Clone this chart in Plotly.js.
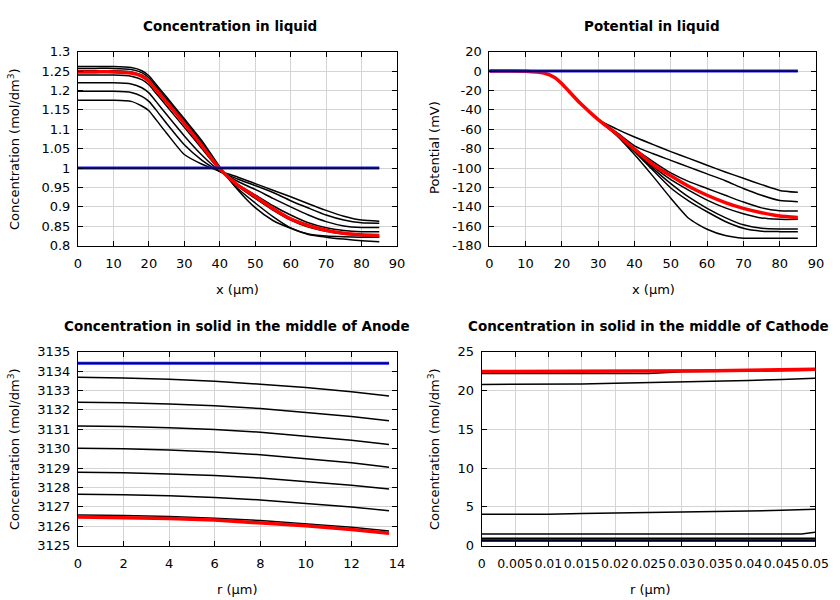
<!DOCTYPE html>
<html>
<head>
<meta charset="utf-8">
<script src="https://cdn.plot.ly/plotly-3.0.1.min.js"></script>
<style>html,body{margin:0;padding:0;background:#fff;}#chart{width:840px;height:600px;}</style>
</head>
<body>
<div id="chart"></div>
<script>
// ---------- Data: concentration in liquid ----------
var xLiq = [0, 5, 10, 15, 18, 20, 22, 25, 30, 35, 40, 45, 50, 55, 60, 65, 70, 75, 80, 85];
var cLiqInit = [1, 1, 1, 1, 1, 1, 1, 1, 1, 1, 1, 1, 1, 1, 1, 1, 1, 1, 1, 1];
var cLiqA = [1.175, 1.175, 1.175, 1.172, 1.160, 1.148, 1.125, 1.090, 1.035, 1.010, 0.992, 0.977, 0.960, 0.943, 0.926, 0.908, 0.891, 0.876, 0.866, 0.863];
var cLiqB = [1.198, 1.198, 1.198, 1.195, 1.185, 1.172, 1.150, 1.115, 1.060, 1.020, 0.991, 0.972, 0.955, 0.937, 0.916, 0.897, 0.879, 0.866, 0.859, 0.858];
var cLiqC = [1.220, 1.220, 1.220, 1.217, 1.207, 1.194, 1.172, 1.138, 1.083, 1.033, 0.992, 0.966, 0.945, 0.922, 0.900, 0.879, 0.862, 0.851, 0.847, 0.847];
var cLiqD = [1.240, 1.240, 1.240, 1.237, 1.228, 1.215, 1.193, 1.160, 1.105, 1.050, 0.995, 0.958, 0.931, 0.903, 0.879, 0.859, 0.846, 0.839, 0.836, 0.836];
var cLiqE = [1.251, 1.251, 1.251, 1.248, 1.240, 1.227, 1.205, 1.172, 1.117, 1.059, 0.998, 0.954, 0.922, 0.892, 0.866, 0.848, 0.837, 0.830, 0.826, 0.824];
var cLiqF = [1.257, 1.257, 1.257, 1.254, 1.246, 1.233, 1.211, 1.178, 1.122, 1.064, 1.000, 0.948, 0.910, 0.875, 0.846, 0.830, 0.825, 0.823, 0.822, 0.822];
var cLiqG = [1.262, 1.262, 1.262, 1.259, 1.251, 1.238, 1.216, 1.183, 1.127, 1.070, 1.003, 0.945, 0.898, 0.865, 0.845, 0.829, 0.822, 0.817, 0.813, 0.810];
var cLiqFinal = [1.248, 1.248, 1.248, 1.245, 1.237, 1.224, 1.202, 1.170, 1.115, 1.057, 0.998, 0.957, 0.927, 0.896, 0.869, 0.852, 0.840, 0.832, 0.828, 0.826];

// ---------- Data: potential in liquid ----------
var pLiqInit = [0, 0, 0, 0, 0, 0, 0, 0, 0, 0, 0, 0, 0, 0, 0, 0, 0, 0, 0, 0];
var pLiqA = [0, 0, -0.2, -2, -6.5, -13, -21, -33, -50, -59.5, -68, -75.5, -83, -90, -97, -104, -110.5, -117, -123, -125];
var pLiqB = [0, 0, -0.2, -2, -6.5, -13, -21, -33, -50, -63, -77, -85, -92, -99, -106, -113, -121, -128, -133.5, -134.6];
var pLiqC = [0, 0, -0.2, -2, -6.5, -13, -21, -33, -50, -64, -80, -93, -105, -114, -121, -128, -135, -141, -144, -144.2];
var pLiqD = [0, 0, -0.2, -2, -6.5, -13, -21, -33, -50, -65, -81, -98, -112, -123, -133, -141, -147, -151.5, -152.8, -152.8];
var pLiqE = [0, 0, -0.2, -2, -6.5, -13, -21, -33, -50, -65.5, -82, -100, -116, -130, -141.5, -151, -158.5, -162, -162.8, -162.8];
var pLiqF = [0, 0, -0.2, -2, -6.5, -13, -21, -33, -50, -65.5, -83, -102, -120.5, -134, -145, -155, -162, -165, -165.5, -165.5];
var pLiqG = [0, 0, -0.2, -2, -6.5, -13, -21, -33, -50, -66, -86, -108, -131, -152, -163, -169.5, -172.2, -172.4, -172.4, -172.4];
var pLiqFinal = [0, 0, -0.2, -2, -6.5, -13, -21, -33, -50, -64.5, -80.5, -96, -108, -119, -128, -135.5, -141.5, -146, -149.4, -150.8];

// ---------- Data: anode solid ----------
var rAn = [0, 2, 4, 6, 8, 10, 12, 13.65];
var cAnInit = [3134.4, 3134.4, 3134.4, 3134.4, 3134.4, 3134.4, 3134.4, 3134.4];
var cAn1 = [3133.68, 3133.65, 3133.58, 3133.48, 3133.32, 3133.15, 3132.94, 3132.72];
var cAn2 = [3132.39, 3132.37, 3132.30, 3132.21, 3132.07, 3131.88, 3131.66, 3131.44];
var cAn3 = [3131.17, 3131.15, 3131.08, 3130.99, 3130.85, 3130.66, 3130.44, 3130.22];
var cAn4 = [3130.02, 3130.00, 3129.93, 3129.83, 3129.69, 3129.49, 3129.27, 3129.04];
var cAn5 = [3128.78, 3128.76, 3128.70, 3128.62, 3128.49, 3128.32, 3128.12, 3127.92];
var cAn6 = [3127.65, 3127.63, 3127.57, 3127.49, 3127.36, 3127.19, 3127.00, 3126.80];
var cAn7 = [3126.58, 3126.56, 3126.50, 3126.42, 3126.30, 3126.14, 3125.95, 3125.76];
var cAnFinal = [3126.48, 3126.46, 3126.40, 3126.32, 3126.19, 3126.03, 3125.83, 3125.64];

// ---------- Data: cathode solid ----------
var rCat = [0, 0.005, 0.01, 0.015, 0.02, 0.025, 0.03, 0.035, 0.04, 0.045, 0.048, 0.05];
var cCatInit = [0.68, 0.68, 0.68, 0.68, 0.68, 0.68, 0.68, 0.68, 0.68, 0.68, 0.68, 0.68];
var cCat1 = [0.76, 0.76, 0.76, 0.76, 0.76, 0.76, 0.76, 0.76, 0.76, 0.76, 0.76, 0.76];
var cCat2 = [0.85, 0.85, 0.85, 0.85, 0.85, 0.85, 0.85, 0.85, 0.85, 0.85, 0.85, 0.85];
var cCat3 = [0.95, 0.95, 0.95, 0.95, 0.95, 0.95, 0.95, 0.95, 0.95, 0.95, 0.95, 0.97];
var cCat4 = [1.5, 1.5, 1.5, 1.5, 1.5, 1.5, 1.5, 1.5, 1.5, 1.5, 1.52, 1.72];
var cCat5 = [4.05, 4.05, 4.05, 4.15, 4.2, 4.25, 4.3, 4.38, 4.46, 4.56, 4.63, 4.7];
var cCat6 = [20.78, 20.78, 20.8, 20.85, 20.93, 21.0, 21.1, 21.2, 21.3, 21.42, 21.5, 21.57];
var cCat7 = [22.2, 22.2, 22.2, 22.2, 22.2, 22.2, 22.42, 22.47, 22.5, 22.55, 22.57, 22.6];
var cCatFinal = [22.45, 22.45, 22.45, 22.45, 22.45, 22.45, 22.47, 22.55, 22.6, 22.65, 22.7, 22.75];

// ---------- Tick labels ----------
var potTickVals = [20, 0, -20, -40, -60, -80, -100, -120, -140, -160, -180];
var potTickText = ['20', '0', '-20', '-40', '-60', '-80', '-100', '-120', '-140', '-160', '-180'];

// ---------- Texts ----------
var titles = ['Concentration in liquid', 'Potential in liquid',
              'Concentration in solid in the middle of Anode', 'Concentration in solid in the middle of Cathode'];
var xTitles = ['x (µm)', 'x (µm)', 'r (µm)', 'r (µm)'];
var yTitles = ['Concentration (mol/dm<sup>3</sup>)', 'Potential (mV)',
               'Concentration (mol/dm<sup>3</sup>)', 'Concentration (mol/dm<sup>3</sup>)'];

var BLACK = '#000000', RED = '#ff0000', BLUE = '#1a1adf';
var traces = [];
function addGroup(x, blacks, finalY, initY, xa, ya, shape) {
  blacks.forEach(function (y) {
    traces.push({x: x, y: y, xaxis: xa, yaxis: ya, mode: 'lines',
      line: {color: BLACK, width: 1.5, shape: shape, smoothing: 0.6}, hoverinfo: 'skip'});
  });
  traces.push({x: x, y: finalY, xaxis: xa, yaxis: ya, mode: 'lines',
    line: {color: RED, width: 3.5, shape: shape, smoothing: 0.6}, hoverinfo: 'skip'});
  traces.push({x: x, y: initY, xaxis: xa, yaxis: ya, mode: 'lines',
    line: {color: BLUE, width: 3, shape: shape}, hoverinfo: 'skip'});
  traces.push({x: x, y: initY, xaxis: xa, yaxis: ya, mode: 'lines',
    line: {color: '#000020', width: 1.2, shape: shape}, hoverinfo: 'skip'});
}
addGroup(xLiq, [cLiqA, cLiqB, cLiqC, cLiqD, cLiqE, cLiqF, cLiqG], cLiqFinal, cLiqInit, 'x', 'y', 'spline');
addGroup(xLiq, [pLiqA, pLiqB, pLiqC, pLiqD, pLiqE, pLiqF, pLiqG], pLiqFinal, pLiqInit, 'x2', 'y2', 'spline');
addGroup(rAn, [cAn1, cAn2, cAn3, cAn4, cAn5, cAn6, cAn7], cAnFinal, cAnInit, 'x3', 'y3', 'linear');
addGroup(rCat, [cCat1, cCat2, cCat3, cCat4, cCat5, cCat6, cCat7], cCatFinal, cCatInit, 'x4', 'y4', 'linear');

var FONT = 'DejaVu Sans, sans-serif';
var FS = 13;
function ax(domain, range, dtick, anchor, extra) {
  var a = {domain: domain, range: range, dtick: dtick, tick0: 0, anchor: anchor,
    showline: true, linecolor: '#000', linewidth: 1, mirror: 'allticks',
    ticks: 'inside', ticklen: 5, tickwidth: 1, tickcolor: '#000',
    showgrid: true, gridcolor: '#d4d4d4', gridwidth: 1, zeroline: false,
    tickangle: 0, tickfont: {family: FONT, size: FS, color: '#000'}, fixedrange: true};
  for (var k in extra) a[k] = extra[k];
  return a;
}
var W = 840, H = 600;
function px(x) { return x / W; }
function py(y) { return 1 - y / H; }
var xdL = [px(78), px(397)], xdR = [px(489.3), px(816)], xdR2 = [px(481.7), px(815)];
var ydT = [py(245.7), py(51.7)], ydB = [py(545.7), py(351.7)];

var layout = {
  width: W, height: H, margin: {l: 0, r: 0, t: 0, b: 0},
  paper_bgcolor: '#fff', plot_bgcolor: '#fff', showlegend: false,
  font: {family: FONT, size: FS, color: '#000'},
  xaxis: ax(xdL, [0, 90], 10, 'y', {ticklabelstandoff: 6}),
  yaxis: ax(ydT, [0.8, 1.3], 0.05, 'x', {ticklabelstandoff: 4}),
  xaxis2: ax(xdR, [0, 90], 10, 'y2', {ticklabelstandoff: 6}),
  yaxis2: ax(ydT, [-180, 20], 20, 'x2', {tickmode: 'array', tickvals: potTickVals, ticktext: potTickText, ticklabelstandoff: 4}),
  xaxis3: ax(xdL, [0, 14], 2, 'y3', {ticklabelstandoff: 6}),
  yaxis3: ax(ydB, [3125, 3135], 1, 'x3', {ticklabelstandoff: 4}),
  xaxis4: ax(xdR2, [0, 0.05], 0.005, 'y4', {ticklabelstandoff: 6, tickfont: {family: FONT, size: 12.5, color: '#000'}}),
  yaxis4: ax(ydB, [0, 25], 5, 'x4', {ticklabelstandoff: 4}),
  annotations: []
};
var titlePos = [[230, 26], [652, 26], [237, 326], [648, 326]];
var xTitlePos = [[237, 289], [653, 289], [237, 589], [650, 589]];
var yTitlePos = [[14, 149], [434, 148], [14, 449], [434, 449]];
for (var i = 0; i < 4; i++) {
  layout.annotations.push({text: '<b>' + titles[i] + '</b>', xref: 'paper', yref: 'paper',
    x: px(titlePos[i][0]), y: py(titlePos[i][1]), xanchor: 'center', yanchor: 'middle',
    showarrow: false, font: {family: FONT, size: 13.5, color: '#000'}});
  layout.annotations.push({text: xTitles[i], xref: 'paper', yref: 'paper',
    x: px(xTitlePos[i][0]), y: py(xTitlePos[i][1]), xanchor: 'center', yanchor: 'middle',
    showarrow: false, font: {family: FONT, size: FS, color: '#000'}});
  layout.annotations.push({text: yTitles[i], xref: 'paper', yref: 'paper', textangle: -90,
    x: px(yTitlePos[i][0]), y: py(yTitlePos[i][1]), xanchor: 'center', yanchor: 'middle',
    showarrow: false, font: {family: FONT, size: FS, color: '#000'}});
}
Plotly.newPlot('chart', traces, layout, {displayModeBar: false, staticPlot: true});
</script>
</body>
</html>
